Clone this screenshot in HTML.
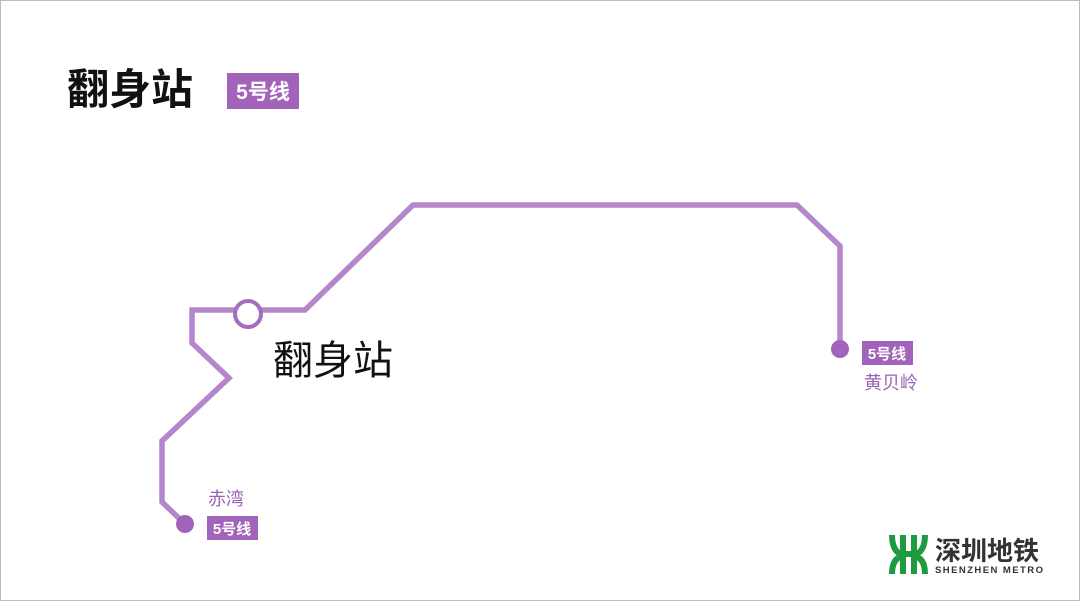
<!DOCTYPE html>
<html><head><meta charset="utf-8"><style>
html,body{margin:0;padding:0;background:#fff;}
svg{display:block;}
text{font-family:"Liberation Sans","Noto Sans CJK SC",sans-serif;}
</style></head><body>
<svg width="1080" height="601" viewBox="0 0 1080 601" xmlns="http://www.w3.org/2000/svg">
<rect x="0.5" y="0.5" width="1079" height="600" fill="#fff" stroke="#bdbdbd" stroke-width="1"/>
<text x="67" y="104" font-size="42" font-weight="bold" fill="#111">翻身站</text>
<rect x="227" y="73" width="72" height="36" fill="#a264bb"/>
<text x="263" y="99" font-size="21" font-weight="bold" fill="#fff" text-anchor="middle">5号线</text>
<polyline points="185,524 162,502 162,441 229,378 192,343 192,310 305,310 413,205 797,205 840,246 840,349" fill="none" stroke="#b586cc" stroke-width="5.5" stroke-linejoin="miter"/>
<circle cx="248" cy="314" r="13" fill="#fff" stroke="#a66dbf" stroke-width="4"/>
<circle cx="185" cy="524" r="9" fill="#a264bb"/>
<circle cx="840" cy="349" r="9" fill="#a264bb"/>
<text x="273" y="374" font-size="40" fill="#111">翻身站</text>
<text x="208" y="505" font-size="18" fill="#9a62b4">赤湾</text>
<rect x="207" y="516" width="51" height="24" fill="#a264bb"/>
<text x="232" y="534" font-size="15" font-weight="bold" fill="#fff" text-anchor="middle">5号线</text>
<rect x="862" y="341" width="51" height="24" fill="#a264bb"/>
<text x="887" y="359" font-size="15" font-weight="bold" fill="#fff" text-anchor="middle">5号线</text>
<text x="864" y="389" font-size="18" fill="#9a62b4">黄贝岭</text>
<g fill="none" stroke="#1e9b3e" stroke-width="6">
<path d="M892,535 Q892,552 903,555 L903,574"/>
<path d="M925,535 Q925,552 914,555 L914,574"/>
<path d="M903,535 L903,552 M914,535 L914,552"/>
<path d="M892,574 Q892,558 903,556 M925,574 Q925,558 914,556"/>
<path d="M900,554 L917,554"/>
</g>
<text x="935" y="560" font-size="26" font-weight="bold" fill="#333">深圳地铁</text>
<text x="935" y="573" font-size="9.5" font-weight="bold" fill="#333" textLength="108">SHENZHEN METRO</text>
</svg>
</body></html>
